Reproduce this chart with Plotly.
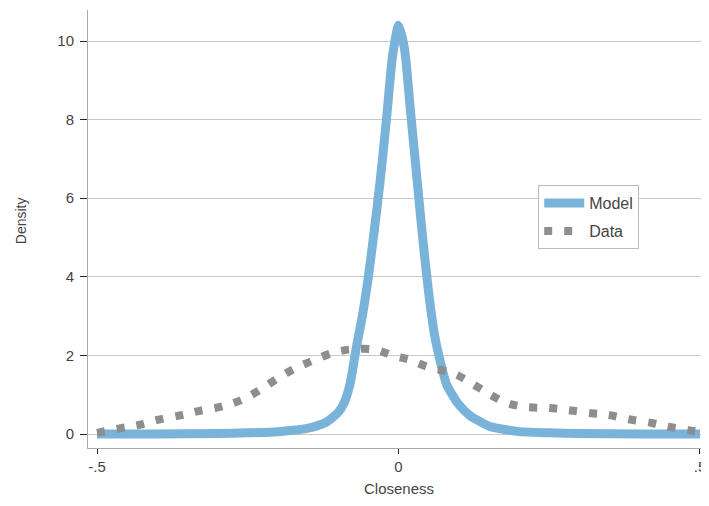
import plotly.graph_objects as go

# Model density curve
model_x = [-0.50, -0.40, -0.30, -0.25, -0.20, -0.15, -0.12, -0.10, -0.09, -0.08, -0.07,
           -0.06, -0.05, -0.04, -0.03, -0.02, -0.01, 0.00, 0.01, 0.02, 0.03, 0.04, 0.05,
           0.06, 0.07, 0.08, 0.10, 0.12, 0.13, 0.15, 0.20, 0.25, 0.30, 0.40, 0.50]
model_y = [0.0, 0.0, 0.01, 0.03, 0.06, 0.15, 0.30, 0.55, 0.80, 1.3, 2.2,
           3.0, 4.0, 5.2, 6.5, 8.0, 9.6, 10.4, 9.8, 8.2, 6.6, 5.0, 3.6,
           2.5, 1.8, 1.25, 0.75, 0.45, 0.36, 0.20, 0.06, 0.03, 0.01, 0.0, 0.0]

# Data density curve
data_x = [-0.50, -0.46, -0.43, -0.40, -0.36, -0.33, -0.29, -0.26, -0.23, -0.20, -0.17,
          -0.14, -0.11, -0.08, -0.04, -0.01, 0.02, 0.05, 0.09, 0.12, 0.15, 0.18, 0.21,
          0.25, 0.28, 0.32, 0.35, 0.38, 0.42, 0.45, 0.48, 0.50]
data_y = [0.03, 0.15, 0.23, 0.36, 0.48, 0.59, 0.71, 0.87, 1.12, 1.42, 1.68,
          1.88, 2.06, 2.15, 2.15, 2.0, 1.88, 1.7, 1.55, 1.3, 1.02, 0.79, 0.69,
          0.66, 0.61, 0.53, 0.48, 0.38, 0.28, 0.18, 0.10, 0.05]

x_ticks = [-0.5, 0, 0.5]
x_tick_labels = ["-.5", "0", ".5"]
y_ticks = [0, 2, 4, 6, 8, 10]

fig = go.Figure()
fig.add_trace(go.Scatter(x=model_x, y=model_y, mode="lines", name="Model", legendgroup="m",
                         line=dict(color="#7ab3da", width=9, shape="spline", smoothing=0.6)))
fig.add_trace(go.Scatter(x=data_x, y=data_y, mode="lines", name="Data", legendgroup="d",
                         line=dict(color="#8e8e8e", width=8, dash="8px,12px", shape="spline")))

fig.update_layout(
    width=701, height=490,
    margin=dict(l=80, r=0, t=2, b=50),
    paper_bgcolor="white", plot_bgcolor="white",
    font=dict(family="Liberation Sans, Arial, sans-serif", size=12, color="#444444"),
    legend=dict(x=0.725, y=0.60, xanchor="left", yanchor="top",
                bordercolor="#bbbbbb", borderwidth=1, bgcolor="white",
                font=dict(size=16, color="#444444"), tracegroupgap=4,
                traceorder="grouped", itemwidth=40),
    xaxis=dict(range=[-0.515, 0.515], tickvals=x_ticks, ticktext=x_tick_labels,
               showgrid=False, zeroline=False, showline=True, linecolor="#aaaaaa",
               linewidth=1, ticks="outside", ticklen=5, tickcolor="#222222",
               automargin=False, tickfont=dict(size=15), ticklabeloverflow="allow"),
    yaxis=dict(range=[-0.356, 10.79], tickvals=y_ticks, showgrid=True,
               gridcolor="#c8c8c8", gridwidth=1, zeroline=False, showline=True,
               linecolor="#aaaaaa", linewidth=1, ticks="outside", ticklen=7,
               tickcolor="#222222", automargin=False, tickfont=dict(size=15),
               ticklabelstandoff=3),
    annotations=[
        dict(text="Closeness", x=0.5, xref="paper", y=-0.0936, yref="paper",
             xanchor="center", yanchor="middle", showarrow=False,
             font=dict(size=15, color="#444444")),
        dict(text="Density", x=-0.108, xref="paper", y=0.52, yref="paper",
             xanchor="center", yanchor="middle", textangle=-90, showarrow=False,
             font=dict(size=14, color="#444444")),
    ],
)

fig.write_html("out.html")
